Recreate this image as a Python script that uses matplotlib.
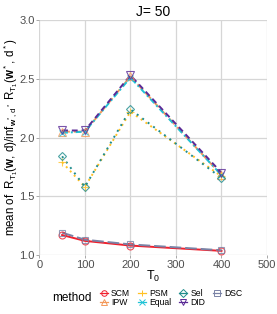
import matplotlib
matplotlib.use("Agg")
import matplotlib.pyplot as plt
from matplotlib.lines import Line2D

# data
t0 = [50, 100, 200, 400]
methods = ["SCM", "IPW", "PSM", "Equal", "Sel", "DID", "DSC"]
scm = [1.17, 1.12, 1.08, 1.035]
ipw = [2.05, 2.05, 2.52, 1.68]
psm = [1.79, 1.58, 2.22, 1.67]
equal = [2.04, 2.05, 2.51, 1.68]
sel = [1.84, 1.58, 2.24, 1.655]
did = [2.06, 2.06, 2.53, 1.70]
dsc = [1.19, 1.13, 1.09, 1.04]
values = [scm, ipw, psm, equal, sel, did, dsc]

colors = ["#F0202D", "#F4995A", "#FFC125", "#20C3D6", "#1E8C8C", "#5A2A96", "#7A83A6"]
markers = ["o", "^", "+", "x", "D", "v", "s"]
styles = ["-", (0, (4, 2)), (0, (1, 2)), (0, (3, 1.5, 1, 1.5)), (0, (1, 2.5)), (0, (3, 2)), (0, (6, 2))]
msizes = [5, 5.5, 6, 5, 4.5, 5.5, 5]

plt.rcParams["font.family"] = ["Liberation Sans", "DejaVu Sans"]
plt.rcParams["mathtext.fontset"] = "custom"
plt.rcParams["mathtext.rm"] = "Liberation Sans"
plt.rcParams["mathtext.it"] = "Liberation Sans"
plt.rcParams["mathtext.bf"] = "Liberation Sans:bold"

fig = plt.figure(figsize=(2.77, 3.14), dpi=100)
ax = fig.add_axes([0.142, 0.188, 0.822, 0.748])

handles = []
for name, y, c, m, ls, ms in zip(methods, values, colors, markers, styles, msizes):
    ax.plot(t0, y, color=c, linestyle=ls, linewidth=1.4, zorder=3)
    ax.plot(t0, y, linestyle="none", marker=m, markersize=ms,
            markerfacecolor="none", markeredgecolor=c, markeredgewidth=0.8,
            alpha=0.8, zorder=4)
    handles.append(Line2D([], [], color=c, linestyle="-", linewidth=0.9, marker=m,
                          markersize=4, markerfacecolor="none", markeredgewidth=0.7))

ax.set_xlim(0, 500)
ax.set_ylim(1.0, 3.0)
ax.set_xticks([0, 100, 200, 300, 400, 500])
ax.set_yticks([1.0, 1.5, 2.0, 2.5, 3.0])
ax.grid(True, color="#d6d6d6", linewidth=0.9)
ax.set_axisbelow(True)
for s in ax.spines.values():
    s.set_visible(False)
ax.tick_params(colors="#9a9a9a", labelcolor="#4d4d4d", labelsize=8, length=2.5, width=0.6, pad=1)

ax.set_title("J= 50", fontsize=10, pad=3)
ax.set_xlabel("$T_0$", fontsize=9, labelpad=-1)
ax.set_ylabel(r"mean of  $R_{T_1}(\mathbf{w},\,d)/\inf_{\mathbf{w}^*,d^*}\ R_{T_1}(\mathbf{w}^*,\,d^*)$",
              fontsize=8.3)
ax.yaxis.set_label_coords(-0.085, 0.5)

fig.text(0.188, 0.051, "method", fontsize=8.5, va="center", ha="left")
fig.legend(handles, methods, ncol=4, loc="center left", bbox_to_anchor=(0.345, 0.051),
           frameon=False, fontsize=6.2, handlelength=0.9, handletextpad=0.4,
           columnspacing=0.9, labelspacing=0.0, borderpad=0)

fig.savefig("out.png", dpi=100)
